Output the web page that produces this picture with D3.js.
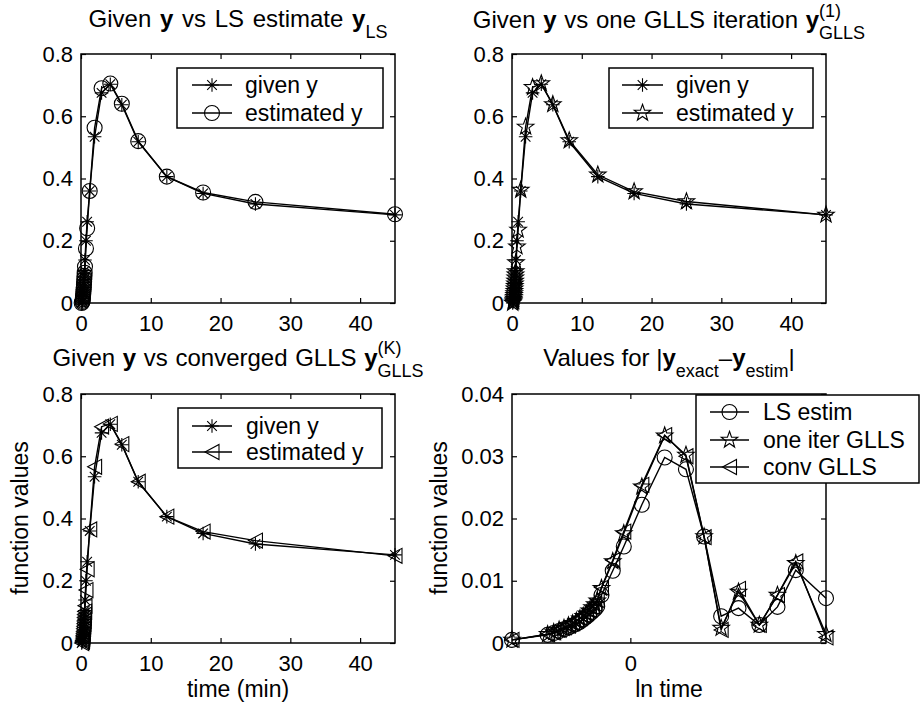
<!DOCTYPE html>
<html lang="en">
<head>
<meta charset="utf-8">
<title>Given y vs LS / GLLS estimates</title>
<script src="https://cdnjs.cloudflare.com/ajax/libs/d3/7.8.5/d3.min.js"></script>
<style>
body { margin: 0; background: #fff; }
svg text { font-family: "Liberation Sans", Arial, Helvetica, sans-serif; fill: #000; }
</style>
</head>
<body>
<script>

// sample times (min)
var time = [0.1, 0.2, 0.225, 0.25, 0.275, 0.3, 0.325, 0.35, 0.375, 0.4, 0.425, 0.45, 0.475, 0.5, 0.525,
            0.57, 0.71, 0.88, 1.25, 1.95, 2.95, 4.2, 5.85, 8.2, 12.3, 17.5, 25, 45];

// function values
var yGiven = [0, 0.004, 0.009, 0.015, 0.021, 0.028, 0.035, 0.042, 0.05, 0.058, 0.066, 0.075, 0.084, 0.094, 0.104,
              0.138, 0.2, 0.261, 0.36, 0.534, 0.675, 0.703, 0.637, 0.518, 0.406, 0.352, 0.318, 0.283];
var yLS    = [0, 0.003, 0.007, 0.012, 0.017, 0.023, 0.029, 0.036, 0.043, 0.051, 0.059, 0.068, 0.077, 0.087, 0.097,
              0.117, 0.175, 0.24, 0.36, 0.563, 0.69, 0.705, 0.64, 0.52, 0.406, 0.355, 0.325, 0.285];
var yGLLS1 = [0, 0.004, 0.008, 0.013, 0.019, 0.025, 0.031, 0.038, 0.046, 0.054, 0.062, 0.071, 0.081, 0.091, 0.101,
              0.13, 0.181, 0.235, 0.363, 0.566, 0.693, 0.705, 0.638, 0.522, 0.412, 0.358, 0.326, 0.283];
var yGLLSK = [0, 0.004, 0.008, 0.013, 0.019, 0.025, 0.031, 0.038, 0.046, 0.054, 0.062, 0.071, 0.081, 0.091, 0.101,
              0.12, 0.17, 0.237, 0.365, 0.566, 0.695, 0.704, 0.639, 0.518, 0.406, 0.358, 0.329, 0.28];

// |y exact - y estim|
var errLS    = [0.0005, 0.0013, 0.0016, 0.0019, 0.0022, 0.0025, 0.0028, 0.0031, 0.0034, 0.0038, 0.0042, 0.0046, 0.005, 0.0054, 0.0059,
                0.0077, 0.0116, 0.0155, 0.0222, 0.0298, 0.0279, 0.0171, 0.0043, 0.0056, 0.0029, 0.0058, 0.0117, 0.0072];
var errGLLS1 = [0.0005, 0.0014, 0.0017, 0.0021, 0.0024, 0.0028, 0.0031, 0.0035, 0.0039, 0.0043, 0.0047, 0.0052, 0.0057, 0.0062, 0.0068,
                0.0088, 0.0131, 0.0176, 0.0251, 0.0333, 0.0302, 0.0171, 0.0024, 0.0082, 0.0029, 0.0077, 0.0128, 0.0014];
var errGLLSK = [0.0005, 0.0014, 0.0017, 0.0021, 0.0025, 0.0028, 0.0032, 0.0036, 0.004, 0.0044, 0.0048, 0.0053, 0.0058, 0.0063, 0.0069,
                0.0089, 0.0133, 0.0179, 0.0254, 0.0334, 0.030, 0.017, 0.0021, 0.0087, 0.0029, 0.0077, 0.0131, 0.0009];

// ticks
var timeTicks = [0, 10, 20, 30, 40];
var valueTicks = [0, 0.2, 0.4, 0.6, 0.8];
var errTicks = [0, 0.01, 0.02, 0.03, 0.04];
var lnTimeTicks = [0];

var w = 920, h = 713;
var boxW = 314, boxH = 249;

var svg = d3.select("body").append("svg")
    .attr("width", w)
    .attr("height", h);

var fmt = function(d){ return d === 0 ? "0" : d3.format("~g")(d); };

// marker shapes like matlab's * o p <
function markerPath(type) {
    var p = d3.path();
    if (type === "asterisk") {
        var a = 6.8, b = 6.8 * 0.7071;
        p.moveTo(-a, 0); p.lineTo(a, 0);
        p.moveTo(0, -a); p.lineTo(0, a);
        p.moveTo(-b, -b); p.lineTo(b, b);
        p.moveTo(-b, b); p.lineTo(b, -b);
    } else if (type === "circle") {
        p.moveTo(7.5, 0);
        p.arc(0, 0, 7.5, 0, 2 * Math.PI);
    } else if (type === "star") {
        for (var i = 0; i < 10; i++) {
            var ang = -Math.PI / 2 + i * Math.PI / 5;
            var r = (i % 2) ? 3.5 : 8.7;
            if (i === 0) p.moveTo(r * Math.cos(ang), r * Math.sin(ang));
            else p.lineTo(r * Math.cos(ang), r * Math.sin(ang));
        }
        p.closePath();
    } else if (type === "triangle") {
        p.moveTo(-7, 0); p.lineTo(7, -7.5); p.lineTo(7, 7.5); p.closePath();
    }
    return p.toString();
}

function panel(left, top, xDomain, yDomain, xTicks, yTicks) {
    var g = svg.append("g").attr("transform", "translate(" + left + "," + top + ")");
    var x = d3.scaleLinear().domain(xDomain).range([0, boxW]);
    var y = d3.scaleLinear().domain(yDomain).range([boxH, 0]);

    g.append("g").attr("class", "axis").attr("transform", "translate(0," + boxH + ")")
        .call(d3.axisBottom(x).tickValues(xTicks).tickSizeInner(-5).tickSizeOuter(0).tickPadding(12).tickFormat(fmt));
    g.append("g").attr("class", "axis")
        .call(d3.axisTop(x).tickValues(xTicks).tickSizeInner(-5).tickSizeOuter(0).tickFormat(""));
    g.append("g").attr("class", "axis")
        .call(d3.axisLeft(y).tickValues(yTicks).tickSizeInner(-5).tickSizeOuter(0).tickPadding(8).tickFormat(fmt));
    g.append("g").attr("class", "axis").attr("transform", "translate(" + boxW + ",0)")
        .call(d3.axisRight(y).tickValues(yTicks).tickSizeInner(-5).tickSizeOuter(0).tickFormat(""));

    g.selectAll(".axis").attr("font-size", 22).attr("font-family", null);
    g.selectAll(".axis .domain").remove();
    g.selectAll(".axis line").attr("stroke", "#000").attr("stroke-width", 1.2);

    g.append("rect")
        .attr("width", boxW).attr("height", boxH)
        .attr("fill", "none").attr("stroke", "#000").attr("stroke-width", 1.5);

    return { g: g, x: x, y: y };
}

function series(p, xs, ys, marker) {
    var line = d3.line()
        .x(function(d, i){ return p.x(xs[i]); })
        .y(function(d){ return p.y(d); });
    p.g.append("path")
        .attr("d", line(ys))
        .attr("fill", "none").attr("stroke", "#000").attr("stroke-width", 1.4);
    p.g.selectAll(null)
        .data(ys)
        .enter()
        .append("path")
        .attr("transform", function(d, i){ return "translate(" + p.x(xs[i]) + "," + p.y(d) + ")"; })
        .attr("d", markerPath(marker))
        .attr("fill", "none").attr("stroke", "#000").attr("stroke-width", 1.1);
}

function legend(x0, y0, x1, y1, rows, lineX0, lineX1, textX) {
    svg.append("rect")
        .attr("x", x0).attr("y", y0).attr("width", x1 - x0).attr("height", y1 - y0)
        .attr("fill", "white").attr("stroke", "#000").attr("stroke-width", 1.5);
    rows.forEach(function(r){
        svg.append("line")
            .attr("x1", lineX0).attr("x2", lineX1).attr("y1", r.y).attr("y2", r.y)
            .attr("stroke", "#000").attr("stroke-width", 1.4);
        svg.append("path")
            .attr("transform", "translate(" + (lineX0 + lineX1) / 2 + "," + r.y + ")")
            .attr("d", markerPath(r.marker))
            .attr("fill", "none").attr("stroke", "#000").attr("stroke-width", 1.1);
        svg.append("text")
            .attr("x", textX).attr("y", r.y).attr("dy", "0.36em")
            .attr("font-size", 23)
            .text(r.label);
    });
}

// titles with bold y and sub / superscripts
function title(cx, by, parts, ws) {
    var t = svg.append("text").attr("x", cx).attr("y", by)
        .attr("text-anchor", "middle").attr("font-size", 24)
        .attr("word-spacing", ws || 0);
    var prevSup = null;
    parts.forEach(function(pt){
        var s = t.append("tspan").text(pt.text);
        if (pt.bold) s.attr("font-weight", "bold");
        if (pt.small) s.attr("font-size", 18);
        if (pt.dy) s.attr("dy", pt.dy);
        if (pt.back && prevSup) s.attr("dx", -prevSup.node().getComputedTextLength());
        if (pt.sup) prevSup = s;
    });
    return t;
}

var timeAll = [0, 45];
var lnTime = time.map(function(t){ return Math.log(t); });

// top left
var p1 = panel(81, 54, timeAll, [0, 0.8], timeTicks, valueTicks);
series(p1, time, yGiven, "asterisk");
series(p1, time, yLS, "circle");

// top right
var p2 = panel(512, 54, timeAll, [0, 0.8], timeTicks, valueTicks);
series(p2, time, yGiven, "asterisk");
series(p2, time, yGLLS1, "star");

// bottom left
var p3 = panel(81, 394, timeAll, [0, 0.8], timeTicks, valueTicks);
series(p3, time, yGiven, "asterisk");
series(p3, time, yGLLSK, "triangle");

// bottom right, log of time
var p4 = panel(512, 394, [Math.log(time[0]), Math.log(time[time.length - 1])], [0, 0.04], lnTimeTicks, errTicks);
series(p4, lnTime, errLS, "circle");
series(p4, lnTime, errGLLS1, "star");
series(p4, lnTime, errGLLSK, "triangle");

// legends
legend(177, 68, 383, 128, [
    { y: 85, marker: "asterisk", label: "given y" },
    { y: 113, marker: "circle", label: "estimated y" }
], 192, 232, 245);
legend(609, 68, 813, 128, [
    { y: 85, marker: "asterisk", label: "given y" },
    { y: 113, marker: "star", label: "estimated y" }
], 622, 663, 676);
legend(178, 408, 382, 468, [
    { y: 426, marker: "asterisk", label: "given y" },
    { y: 452, marker: "triangle", label: "estimated y" }
], 192, 232, 246);
legend(696, 395, 919, 483, [
    { y: 412, marker: "circle", label: "LS estim" },
    { y: 440, marker: "star", label: "one iter GLLS" },
    { y: 467, marker: "triangle", label: "conv GLLS" }
], 710, 749, 763);

// titles
title(238, 27, [
    { text: "Given " }, { text: "y", bold: true }, { text: " vs LS estimate " },
    { text: "y", bold: true }, { text: "LS", small: true, dy: 11 }
], 2);
title(669, 28, [
    { text: "Given " }, { text: "y", bold: true }, { text: " vs one GLLS iteration " },
    { text: "y", bold: true }, { text: "(1)", small: true, sup: true, dy: -11 },
    { text: "GLLS", small: true, back: true, dy: 22 }
], 1);
title(238, 366, [
    { text: "Given " }, { text: "y", bold: true }, { text: " vs converged GLLS " },
    { text: "y", bold: true }, { text: "(K)", small: true, sup: true, dy: -12 },
    { text: "GLLS", small: true, back: true, dy: 23 }
], 1);
title(669, 366, [
    { text: "Values for |" }, { text: "y", bold: true }, { text: "exact", small: true, dy: 11 },
    { text: "\u2013", dy: -11 }, { text: "y", bold: true }, { text: "estim", small: true, dy: 11 },
    { text: "|", dy: -11 }
], 0);

// axis labels
svg.append("text").attr("transform", "translate(28,518) rotate(-90)")
    .attr("text-anchor", "middle").attr("font-size", 23).text("function values");
svg.append("text").attr("transform", "translate(447,518) rotate(-90)")
    .attr("text-anchor", "middle").attr("font-size", 23).text("function values");
svg.append("text").attr("x", 238).attr("y", 697)
    .attr("text-anchor", "middle").attr("font-size", 23).text("time (min)");
svg.append("text").attr("x", 669).attr("y", 697)
    .attr("text-anchor", "middle").attr("font-size", 23).text("ln time");

</script>
</body>
</html>
